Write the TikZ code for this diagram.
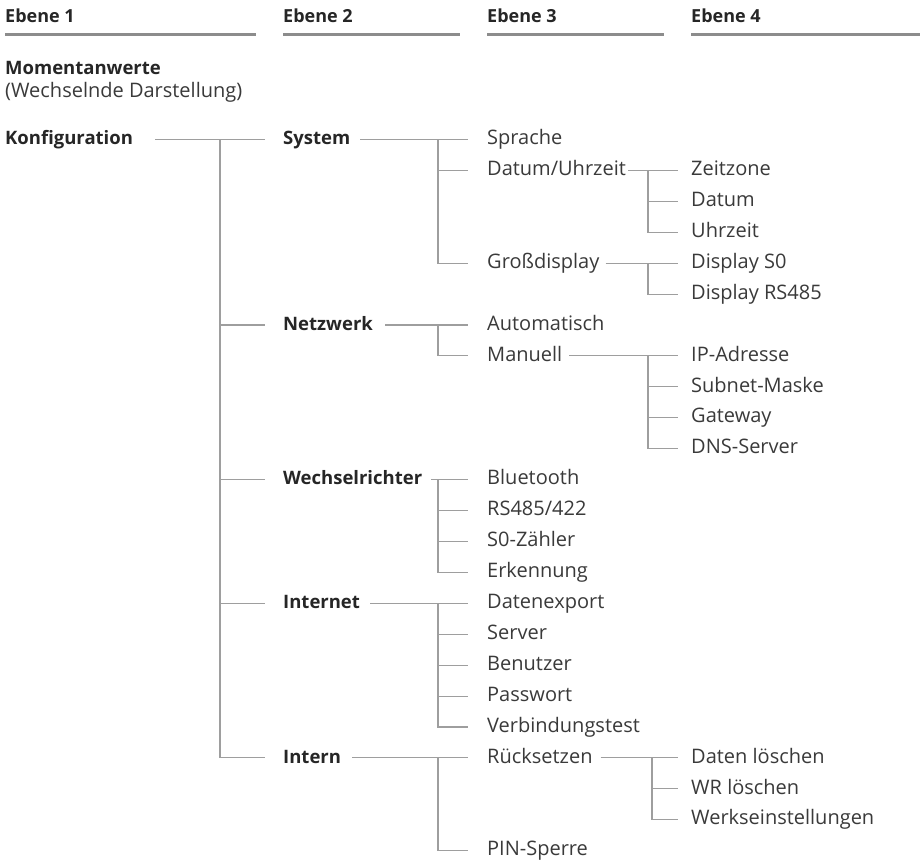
\documentclass[tikz,border=0pt]{standalone}
\usepackage{fontspec}
\setmainfont{Open Sans}
\definecolor{tcol}{HTML}{3A3A3A}
\definecolor{bcol}{HTML}{262626}
\definecolor{lcol}{HTML}{9E9E9E}
\definecolor{hcol}{HTML}{8C8C8C}
\newcommand\mitem[5]{%
  \pgfmathsetmacro\yy{139.5+30.92*(#4)}%
  \pgfmathsetmacro\yb{\yy+5.2}%
  \node[#1] (#2) at (#3,\yb) {#5};
  \coordinate (#2-l) at (#3,\yy);}
\newcommand\pconn[4]{\draw[conn, shorten <=#3pt, shorten >=#4pt] (#1.east |- #1-l) -- (#2-l);}
\newcommand\trunk[4]{\draw[conn, shorten >=#4pt] (#1 |- #2-l) -- (#1 |- #3-l) -- (#3-l);}
\newcommand\brconn[3]{\draw[conn, shorten >=#3pt] (#1 |- #2-l) -- (#2-l);}
\begin{document}
\begin{tikzpicture}[x=1pt,y=-1pt,
  txt/.style={anchor=base west, inner sep=0pt, font=\fontsize{20}{24}\selectfont, text=tcol},
  btxt/.style={anchor=base west, inner sep=0pt, font=\fontsize{18.5}{22}\selectfont\bfseries, text=bcol},
  hd/.style={anchor=base west, inner sep=0pt, font=\fontsize{18}{22}\selectfont\bfseries, text=bcol},
  conn/.style={draw=lcol, line width=1.1pt},
  hline/.style={draw=hcol, line width=3pt}]
\fill[white] (0,0) rectangle (922,863);
\useasboundingbox (0,0) rectangle (922,863);

% headers
\node[hd] (h1) at (5,22) {Ebene 1};
\node[hd] (h2) at (283,22) {Ebene 2};
\node[hd] (h3) at (487,22) {Ebene 3};
\node[hd] (h4) at (691,22) {Ebene 4};
\coordinate (h1e) at (256,34);
\coordinate (h2e) at (460,34);
\coordinate (h3e) at (664,34);
\coordinate (h4e) at (920,34);
\draw[hline] (h1.base west |- h1e) -- (h1e);
\draw[hline] (h2.base west |- h2e) -- (h2e);
\draw[hline] (h3.base west |- h3e) -- (h3e);
\draw[hline] (h4.base west |- h4e) -- (h4e);

\node[btxt] (mom) at (5,74) {Momentanwerte};
\node[txt] (wech) at (5,97) {(Wechselnde Darstellung)};

% level 1
\mitem{btxt}{konf}{5}{0}{Konfiguration}
% level 2
\mitem{btxt}{sys}{283}{0}{System}
\mitem{btxt}{netz}{283}{6}{Netzwerk}
\mitem{btxt}{wr}{283}{11}{Wechselrichter}
\mitem{btxt}{inet}{283}{15}{Internet}
\mitem{btxt}{intern}{283}{20}{Intern}
% level 3
\mitem{txt}{sprache}{487}{0}{Sprache}
\mitem{txt}{datum}{487}{1}{Datum/Uhrzeit}
\mitem{txt}{gross}{487}{4}{Großdisplay}
\mitem{txt}{auto}{487}{6}{Automatisch}
\mitem{txt}{manuell}{487}{7}{Manuell}
\mitem{txt}{bt}{487}{11}{Bluetooth}
\mitem{txt}{rs}{487}{12}{RS485/422}
\mitem{txt}{szero}{487}{13}{S0-Zähler}
\mitem{txt}{erk}{487}{14}{Erkennung}
\mitem{txt}{dexp}{487}{15}{Datenexport}
\mitem{txt}{server}{487}{16}{Server}
\mitem{txt}{benutzer}{487}{17}{Benutzer}
\mitem{txt}{passwort}{487}{18}{Passwort}
\mitem{txt}{vtest}{487}{19}{Verbindungstest}
\mitem{txt}{rueck}{487}{20}{Rücksetzen}
\mitem{txt}{pin}{487}{23}{PIN-Sperre}
% level 4
\mitem{txt}{zeitzone}{691}{1}{Zeitzone}
\mitem{txt}{datumv}{691}{2}{Datum}
\mitem{txt}{uhrzeit}{691}{3}{Uhrzeit}
\mitem{txt}{dsnull}{691}{4}{Display S0}
\mitem{txt}{drs}{691}{5}{Display RS485}
\mitem{txt}{ip}{691}{7}{IP-Adresse}
\mitem{txt}{subnet}{691}{8}{Subnet-Maske}
\mitem{txt}{gateway}{691}{9}{Gateway}
\mitem{txt}{dns}{691}{10}{DNS-Server}
\mitem{txt}{dl}{691}{20}{Daten löschen}
\mitem{txt}{wrl}{691}{21}{WR löschen}
\mitem{txt}{werk}{691}{22}{Werkseinstellungen}

% trunk x positions
\coordinate (TA) at (220,0);
\coordinate (TB) at (438,0);
\coordinate (TC) at (648,0);
\coordinate (TD) at (652,0);

% connectors
\pconn{konf}{sys}{22}{18}
\trunk{TA}{sys}{intern}{18}
\brconn{TA}{netz}{18}
\brconn{TA}{wr}{18}
\brconn{TA}{inet}{18}

\pconn{sys}{sprache}{10}{19}
\trunk{TB}{sprache}{gross}{19}
\brconn{TB}{datum}{19}

\pconn{datum}{zeitzone}{2}{13}
\trunk{TC}{zeitzone}{uhrzeit}{13}
\brconn{TC}{datumv}{13}

\pconn{gross}{dsnull}{6}{13}
\trunk{TC}{dsnull}{drs}{13}

\pconn{netz}{auto}{12}{19}
\trunk{TB}{auto}{manuell}{19}

\pconn{manuell}{ip}{7}{13}
\trunk{TC}{ip}{dns}{13}
\brconn{TC}{subnet}{13}
\brconn{TC}{gateway}{13}

\pconn{wr}{bt}{9}{19}
\trunk{TB}{bt}{erk}{19}
\brconn{TB}{rs}{19}
\brconn{TB}{szero}{19}

\pconn{inet}{dexp}{10}{19}
\trunk{TB}{dexp}{vtest}{19}
\brconn{TB}{server}{19}
\brconn{TB}{benutzer}{19}
\brconn{TB}{passwort}{19}

\pconn{intern}{rueck}{11}{19}
\trunk{TB}{rueck}{pin}{19}

\pconn{rueck}{dl}{8}{13}
\trunk{TD}{dl}{werk}{13}
\brconn{TD}{wrl}{13}
\end{tikzpicture}
\end{document}
